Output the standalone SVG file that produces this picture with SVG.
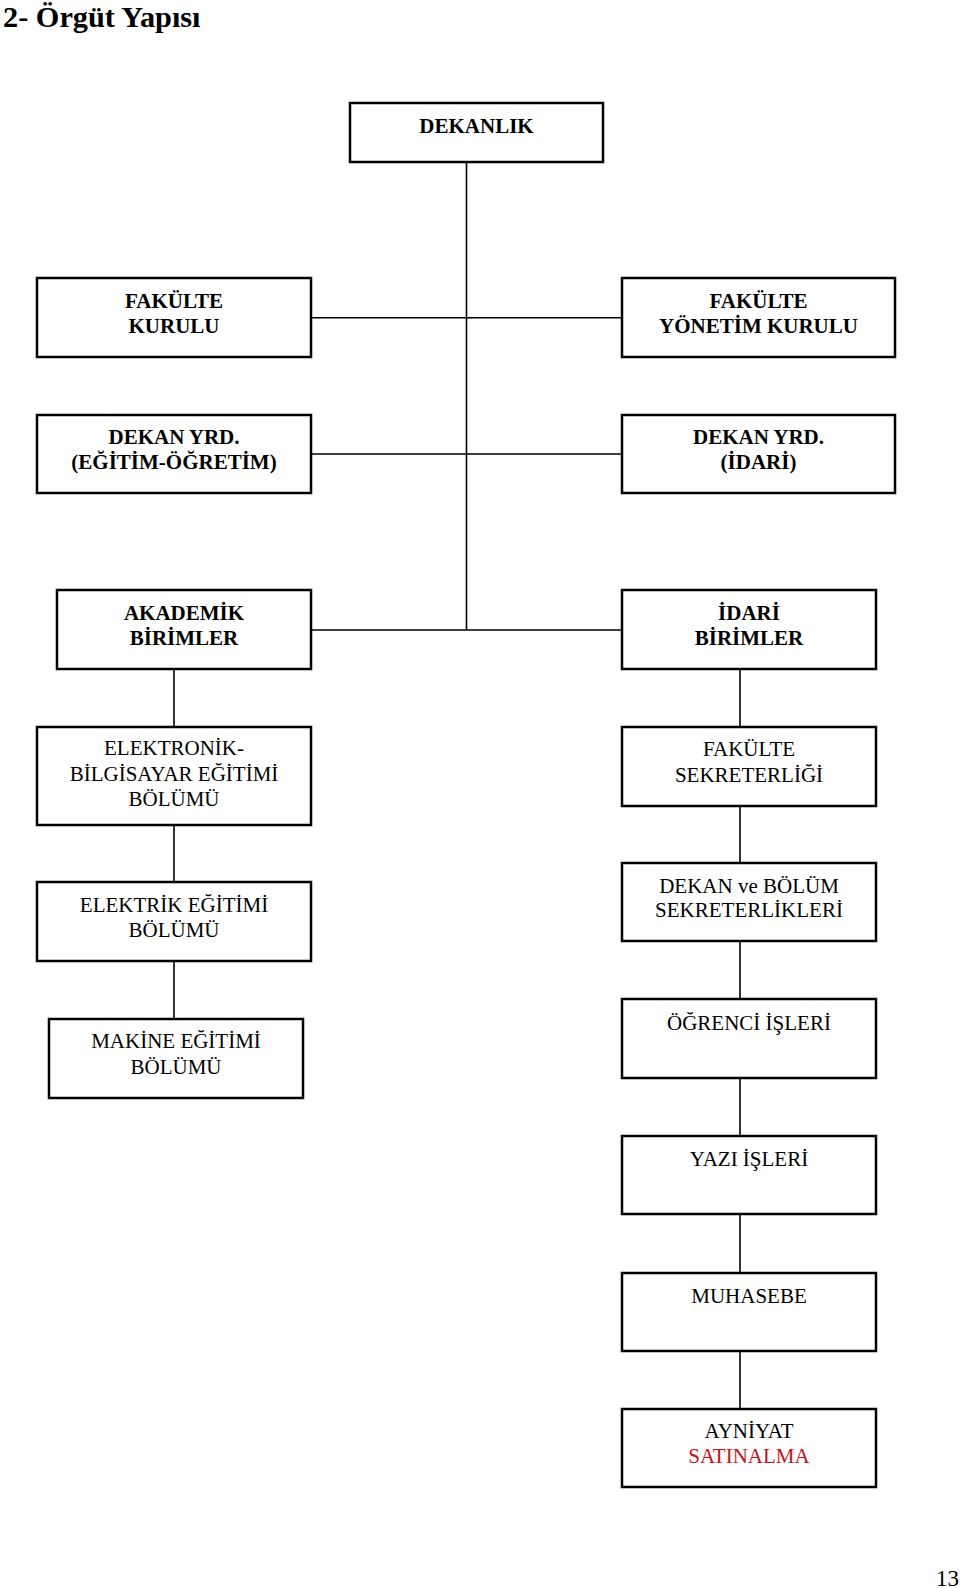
<svg xmlns="http://www.w3.org/2000/svg" width="960" height="1588" viewBox="0 0 960 1588">
<style>
text{font-family:"Liberation Serif","Times New Roman",serif;font-size:21px;fill:#000;text-anchor:middle}
.b{font-weight:bold}
.box{fill:#fff;stroke:#000;stroke-width:2.5}
.con{stroke:#000;stroke-width:1.6;fill:none}
.red{fill:#c8101a}
</style>
<rect width="960" height="1588" fill="#fff"/>
<text x="3" y="27" class="b" style="font-size:30.3px;text-anchor:start">2- Örgüt Yapısı</text>
<g id="connectors">
<line class="con" x1="466.5" y1="162" x2="466.5" y2="630"/>
<line class="con" x1="311" y1="317.7" x2="622" y2="317.7"/>
<line class="con" x1="311" y1="454" x2="622" y2="454"/>
<line class="con" x1="311" y1="630" x2="622" y2="630"/>
<line class="con" x1="174" y1="669" x2="174" y2="727"/>
<line class="con" x1="174" y1="825" x2="174" y2="882"/>
<line class="con" x1="174" y1="961" x2="174" y2="1019"/>
<line class="con" x1="740" y1="669" x2="740" y2="727"/>
<line class="con" x1="740" y1="806" x2="740" y2="863"/>
<line class="con" x1="740" y1="941" x2="740" y2="999"/>
<line class="con" x1="740" y1="1078" x2="740" y2="1136"/>
<line class="con" x1="740" y1="1214" x2="740" y2="1273"/>
<line class="con" x1="740" y1="1351" x2="740" y2="1409"/>
</g>
<g id="dekanlik"><rect class="box" x="350" y="103" width="253" height="59"/><text class="b" x="476.5" y="132.7">DEKANLIK</text></g>
<g id="fakulte-kurulu"><rect class="box" x="37" y="278" width="274" height="79"/><text class="b" x="174" y="308">FAKÜLTE</text><text class="b" x="174" y="333">KURULU</text></g>
<g id="fakulte-yonetim"><rect class="box" x="622" y="278" width="273" height="79"/><text class="b" x="758.5" y="308">FAKÜLTE</text><text class="b" x="758.5" y="333">YÖNETİM KURULU</text></g>
<g id="dekan-yrd-egitim"><rect class="box" x="37" y="415" width="274" height="78"/><text class="b" x="174" y="444.3">DEKAN YRD.</text><text class="b" x="174" y="469">(EĞİTİM-ÖĞRETİM)</text></g>
<g id="dekan-yrd-idari"><rect class="box" x="622" y="415" width="273" height="78"/><text class="b" x="758.5" y="444.3">DEKAN YRD.</text><text class="b" x="758.5" y="469">(İDARİ)</text></g>
<g id="akademik"><rect class="box" x="57" y="590" width="254" height="79"/><text class="b" x="184" y="620">AKADEMİK</text><text class="b" x="184" y="645">BİRİMLER</text></g>
<g id="idari"><rect class="box" x="622" y="590" width="254" height="79"/><text class="b" x="749" y="620">İDARİ</text><text class="b" x="749" y="645">BİRİMLER</text></g>
<g id="elektronik"><rect class="box" x="37" y="727" width="274" height="98"/><text x="174" y="755">ELEKTRONİK-</text><text x="174" y="780.7">BİLGİSAYAR EĞİTİMİ</text><text x="174" y="806">BÖLÜMÜ</text></g>
<g id="fakulte-sekreterligi"><rect class="box" x="622" y="727" width="254" height="79"/><text x="749" y="756">FAKÜLTE</text><text x="749" y="781.5">SEKRETERLİĞİ</text></g>
<g id="elektrik"><rect class="box" x="37" y="882" width="274" height="79"/><text x="174" y="911.7">ELEKTRİK EĞİTİMİ</text><text x="174" y="937.3">BÖLÜMÜ</text></g>
<g id="dekan-bolum-sekreterlikleri"><rect class="box" x="622" y="863" width="254" height="78"/><text x="749" y="892.7">DEKAN ve BÖLÜM</text><text x="749" y="917.3">SEKRETERLİKLERİ</text></g>
<g id="makine"><rect class="box" x="49" y="1019" width="254" height="79"/><text x="176" y="1048.3">MAKİNE EĞİTİMİ</text><text x="176" y="1074">BÖLÜMÜ</text></g>
<g id="ogrenci-isleri"><rect class="box" x="622" y="999" width="254" height="79"/><text x="749" y="1030">ÖĞRENCİ İŞLERİ</text></g>
<g id="yazi-isleri"><rect class="box" x="622" y="1136" width="254" height="78"/><text x="749" y="1165.7">YAZI İŞLERİ</text></g>
<g id="muhasebe"><rect class="box" x="622" y="1273" width="254" height="78"/><text x="749" y="1302.7">MUHASEBE</text></g>
<g id="ayniyat"><rect class="box" x="622" y="1409" width="254" height="78"/><text x="749" y="1438.3">AYNİYAT</text><text class="red" x="749" y="1463.3">SATINALMA</text></g>
<text x="959" y="1585.7" style="font-size:23px;text-anchor:end">13</text>
</svg>
